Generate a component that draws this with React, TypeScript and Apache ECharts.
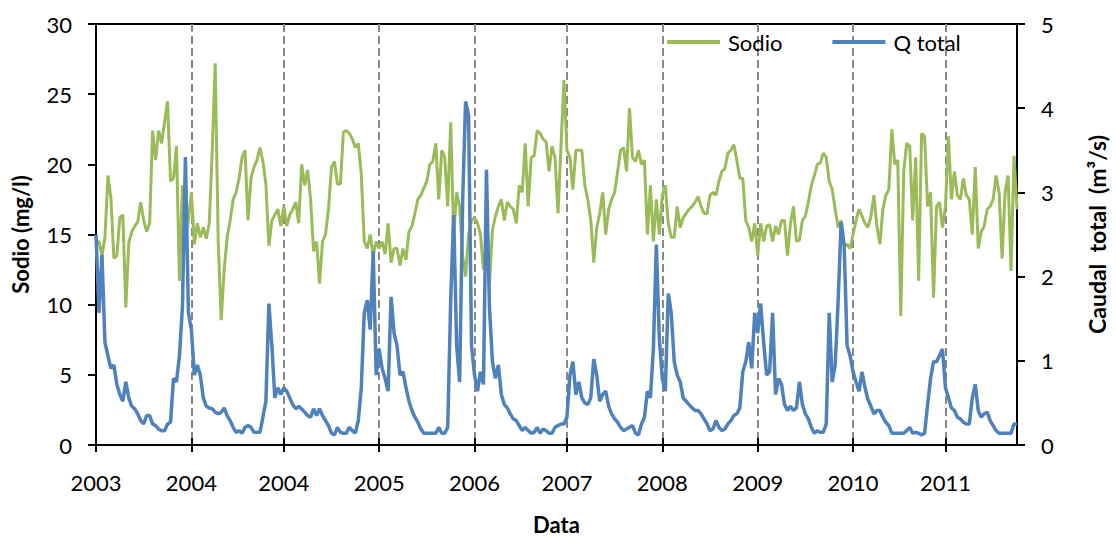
import React, { useEffect, useRef } from 'react';
import * as echarts from 'echarts';

const tickLabels = ['2003', '2004', '2004', '2005', '2006', '2007', '2008', '2009', '2010', '2011'];
const tickIndex = [0, 32, 63, 95, 127, 158, 190, 222, 254, 285];

const sodio = [
  14.5, 14.5, 13.5, 14.8, 19.2, 17.6, 13.3, 13.5, 16.2, 16.4, 9.8, 14.4, 15.2, 15.6, 15.9, 17.3, 16.0, 15.2, 15.8, 22.4,
  20.3, 22.4, 21.5, 23.0, 24.5, 18.8, 19.0, 21.3, 11.7, 18.5, 15.0, 16.0, 18.0, 14.3, 15.8, 14.8, 15.5, 14.7, 15.8, 21.0,
  27.2, 14.5,
  8.9, 12.5, 14.8, 16.0, 17.5, 18.0, 19.0, 20.5, 21.0, 16.0, 19.0, 19.8, 20.3, 21.2, 20.2, 18.6, 14.2, 16.0, 16.4, 16.8,
  15.6, 17.0, 15.6, 16.4, 16.8, 17.3, 15.8, 20.0, 18.5, 19.6, 17.5, 13.8, 14.5, 11.5, 14.5, 15.0, 16.8, 19.8, 20.2, 18.6,
  18.6, 22.3, 22.4, 22.2, 21.8, 21.2, 21.5, 19.3, 14.5, 14.0, 15.0, 13.5, 14.5, 14.0, 14.5, 13.6, 15.8, 13.0, 14.0, 14.0,
  12.8, 14.0, 13.2, 15.2, 15.6, 16.5, 17.5, 17.8, 18.3, 18.8, 20.0, 20.2, 21.5, 17.5, 21.0, 20.5, 17.0, 23.0, 15.0, 18.0,
  17.0, 13.5, 12.0, 15.0, 16.0, 16.2, 15.8, 15.0, 12.5, 14.5, 11.5, 15.3, 16.3, 17.0, 17.5, 16.0, 17.3, 17.0, 16.8, 15.8,
  18.5, 18.0, 21.5, 17.0, 20.5, 20.6, 22.4, 22.2, 21.8, 21.6, 19.5, 21.3, 20.5, 16.5, 21.3, 26.0, 21.0, 20.5, 18.2, 21.0,
  21.0, 21.0, 18.5, 17.5, 16.0, 13.0, 15.5, 16.5, 18.0, 15.0, 16.8, 17.5, 18.0, 19.5, 21.0, 21.2, 19.5, 24.0, 20.5, 20.2,
  21.0, 20.0, 20.3, 15.0, 18.5, 14.5, 17.5, 15.0, 17.8, 18.5, 15.8, 14.8, 14.8, 17.0, 15.5, 16.2, 16.5, 16.8, 17.0, 17.3,
  17.7, 17.0, 16.5, 16.5, 17.8, 18.0, 17.8, 18.8, 19.5, 19.7, 20.8, 21.0, 21.4, 20.3, 19.0, 19.0, 16.0, 15.5, 14.5, 15.8,
  13.5, 15.8, 14.5, 15.6, 15.7, 14.5, 15.6, 15.0, 16.0, 16.0, 13.5, 15.8, 17.0, 14.5, 14.6, 16.0, 16.3, 17.3, 18.5, 19.2,
  20.0, 20.1, 20.8, 20.5, 18.8, 18.2, 16.8, 15.5, 16.0, 14.2, 14.3, 14.0, 15.0, 16.0, 16.8, 16.3, 15.8, 15.5, 16.3, 17.8,
  15.6, 14.3, 16.8, 17.8, 18.2, 22.5, 20.0, 20.3, 9.2, 19.5, 21.5, 21.3, 16.0, 20.5, 11.7, 22.2, 22.0, 17.0, 18.0, 10.5,
  17.0, 17.3, 15.5, 17.0, 22.0, 17.5, 19.5, 17.8, 17.5, 19.0, 17.8, 17.5, 15.0, 19.8, 14.0, 15.2, 15.6, 16.8, 17.0, 17.5,
  19.2, 18.0, 13.3, 18.0, 19.2, 12.4, 20.6, 16.8,
];

const qTotal = [
  2.50, 1.57, 2.26, 1.22, 1.06, 0.91, 0.95, 0.72, 0.60, 0.52, 0.75, 0.56, 0.46, 0.43, 0.37, 0.29, 0.25, 0.35, 0.35, 0.25,
  0.23, 0.19, 0.17, 0.17, 0.25, 0.27, 0.79, 0.75, 1.06, 1.64, 3.42, 1.57, 1.37, 0.83, 0.95, 0.83, 0.56, 0.46, 0.44, 0.43,
  0.39, 0.37,
  0.39, 0.44, 0.35, 0.29, 0.21, 0.15, 0.17, 0.14, 0.21, 0.23, 0.21, 0.15, 0.15, 0.15, 0.33, 0.52, 1.68, 1.18, 0.56, 0.68,
  0.60, 0.68, 0.64, 0.56, 0.48, 0.43, 0.46, 0.43, 0.39, 0.35, 0.33, 0.43, 0.35, 0.43, 0.35, 0.29, 0.23, 0.14, 0.12, 0.21,
  0.15, 0.14, 0.14, 0.21, 0.17, 0.14, 0.29, 0.68, 1.57, 1.72, 1.37, 2.30, 0.83, 1.14, 0.91, 0.79, 0.64, 1.76, 1.33, 1.18,
  0.83, 0.87, 0.68, 0.52, 0.41, 0.33, 0.27, 0.19, 0.14, 0.14, 0.14, 0.14, 0.14, 0.21, 0.14, 0.14, 0.21, 1.72, 2.73, 1.18,
  0.75, 2.88, 4.08, 3.92, 1.18, 0.83, 0.64, 0.87, 0.72, 3.27, 1.64, 0.99, 0.79, 0.95, 0.60, 0.48, 0.44, 0.37, 0.31, 0.29,
  0.23, 0.17, 0.21, 0.17, 0.14, 0.15, 0.21, 0.14, 0.19, 0.17, 0.14, 0.14, 0.21, 0.23, 0.25, 0.25, 0.33, 0.83, 0.99, 0.60,
  0.75, 0.56, 0.50, 0.48, 0.56, 1.02, 0.83, 0.52, 0.60, 0.64, 0.46, 0.37, 0.31, 0.27, 0.21, 0.17, 0.19, 0.21, 0.23, 0.14,
  0.12, 0.25, 0.33, 0.64, 0.56, 1.14, 2.38, 1.26, 0.79, 0.64, 1.80, 1.57, 0.99, 0.83, 0.75, 0.56, 0.52, 0.48, 0.44, 0.41,
  0.41, 0.37, 0.31, 0.25, 0.17, 0.19, 0.29, 0.21, 0.17, 0.19, 0.25, 0.29, 0.35, 0.37, 0.44, 0.87, 0.99, 1.22, 0.91, 1.57,
  1.33, 1.68, 1.22, 0.83, 0.87, 1.57, 0.60, 0.79, 0.72, 0.48, 0.41, 0.46, 0.41, 0.44, 0.75, 0.48, 0.37, 0.31, 0.21, 0.14,
  0.17, 0.15, 0.15, 0.25, 1.57, 0.75, 0.95, 1.72, 2.65, 2.38, 1.18, 1.06, 0.87, 0.75, 0.64, 0.87, 0.68, 0.54, 0.46, 0.37,
  0.41, 0.41, 0.33, 0.27, 0.23, 0.14, 0.14, 0.14, 0.14, 0.14, 0.17, 0.21, 0.14, 0.15, 0.14, 0.12, 0.14, 0.48, 0.79, 0.99,
  0.99, 1.06, 1.14, 0.68, 0.56, 0.44, 0.41, 0.33, 0.31, 0.27, 0.25, 0.25, 0.56, 0.72, 0.41, 0.33, 0.37, 0.39, 0.29, 0.23,
  0.17, 0.14, 0.14, 0.14, 0.14, 0.14, 0.25, 0.25,
];

const categories = sodio.map((_, i) => String(i));

export default function App() {
  const ref = useRef<HTMLDivElement>(null);
  useEffect(() => {
    document.body.style.margin = '0';
    const chart = echarts.init(ref.current as HTMLDivElement, null, { renderer: 'svg' });
    const isTick = (i: number) => tickIndex.indexOf(i) >= 0;
    const fontFamily = 'Lato';
    const black = '#000';
    chart.setOption({
      animation: false,
      backgroundColor: '#fff',
      grid: { left: 96, right: 94, top: 24, bottom: 85, show: true, borderColor: black, borderWidth: 2 },
      legend: {
        left: 662,
        top: 26,
        icon: 'rect',
        itemWidth: 53,
        itemHeight: 4,
        itemGap: 50,
        textStyle: { fontSize: 22, fontFamily, color: black, padding: [0, 0, 0, 3] },
        data: ['Sodio', 'Q total'],
      },
      xAxis: [
        {
          type: 'category',
          data: categories,
          boundaryGap: false,
          axisLine: { show: true, lineStyle: { color: black, width: 2 } },
          axisTick: { show: true, interval: (i: number) => isTick(i), length: 7, lineStyle: { color: black, width: 2 } },
          axisLabel: {
            interval: (i: number) => isTick(i),
            formatter: (_v: string, i: number) => {
              const k = tickIndex.indexOf(i);
              return k >= 0 ? tickLabels[k] : '';
            },
            fontSize: 22,
            fontFamily,
            color: black,
            margin: 26,
          },
          splitLine: {
            show: true,
            interval: (i: number) => isTick(i),
            lineStyle: { color: '#888', width: 2, type: [8, 4] },
          },
          name: 'Data',
          nameLocation: 'middle',
          nameGap: 68,
          nameTextStyle: { fontSize: 22, fontWeight: 'bold', fontFamily, color: black },
        },
        {
          type: 'category',
          data: categories,
          boundaryGap: false,
          position: 'bottom',
          axisLine: { show: false },
          axisTick: { show: true, inside: true, interval: (i: number) => isTick(i), length: 7, lineStyle: { color: black, width: 2 } },
          axisLabel: { show: false },
          splitLine: { show: false },
        },
      ],
      yAxis: [
        {
          type: 'value',
          min: 0,
          max: 30,
          interval: 5,
          position: 'left',
          axisLine: { show: true, lineStyle: { color: black, width: 2 } },
          axisTick: { show: true, length: 8, lineStyle: { color: black, width: 2 } },
          axisLabel: { fontSize: 22, fontFamily, color: black, margin: 24 },
          splitLine: { show: false },
          name: 'Sodio (mg/l)',
          nameLocation: 'middle',
          nameGap: 65,
          nameTextStyle: { fontSize: 22, fontWeight: 'bold', fontFamily, color: black },
        },
        {
          type: 'value',
          min: 0,
          max: 5,
          interval: 1,
          position: 'right',
          axisLine: { show: true, lineStyle: { color: black, width: 2 } },
          axisTick: { show: true, length: 8, lineStyle: { color: black, width: 2 } },
          axisLabel: { fontSize: 22, fontFamily, color: black, margin: 24 },
          splitLine: { show: false },
          name: 'Caudal  total  (m³/s)',
          nameLocation: 'middle',
          nameGap: 68,
          nameTextStyle: { fontSize: 23, fontWeight: 'bold', fontFamily, color: black },
        },
      ],
      series: [
        {
          name: 'Sodio',
          type: 'line',
          xAxisIndex: 0,
          yAxisIndex: 0,
          data: sodio,
          symbol: 'none',
          lineStyle: { color: '#9BBB59', width: 3 },
          itemStyle: { color: '#9BBB59' },
        },
        {
          name: 'Q total',
          type: 'line',
          xAxisIndex: 0,
          yAxisIndex: 1,
          data: qTotal,
          symbol: 'none',
          lineStyle: { color: '#4F81BD', width: 3.5 },
          itemStyle: { color: '#4F81BD' },
        },
      ],
    });
    return () => chart.dispose();
  }, []);
  return <div ref={ref} style={{ width: 1116, height: 540 }} />;
}
